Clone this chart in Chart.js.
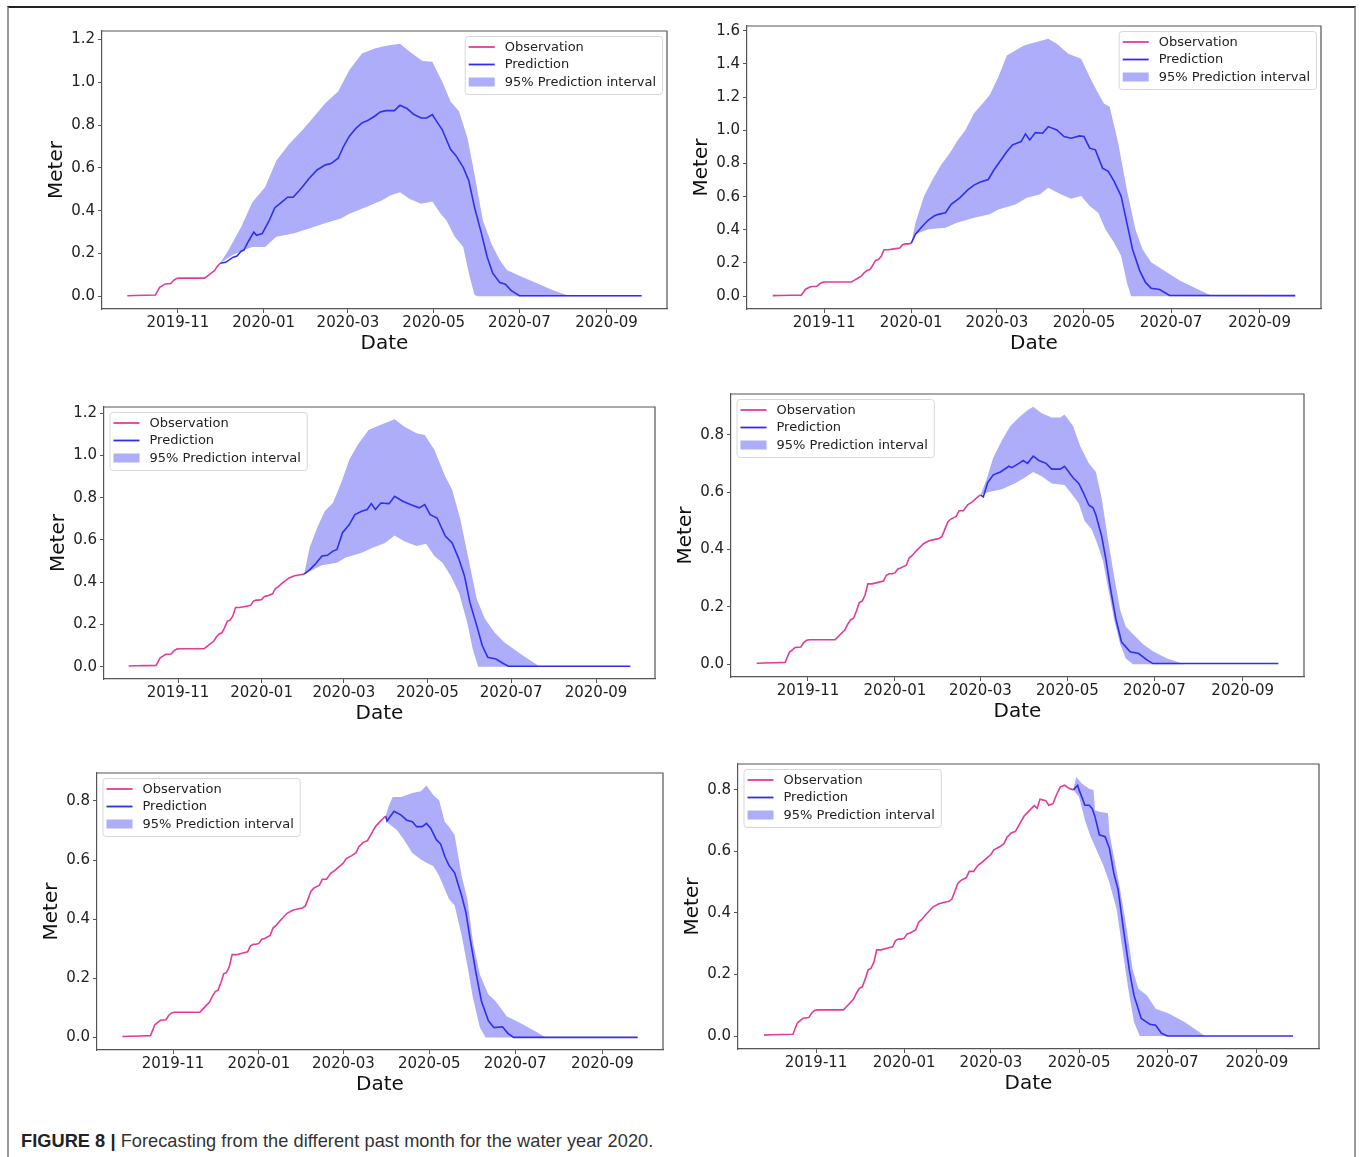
<!DOCTYPE html>
<html>
<head>
<meta charset="utf-8">
<script src="https://cdn.jsdelivr.net/npm/chart.js@4.4.1/dist/chart.umd.min.js"></script>
<style>
  body { margin: 0; background: #fff; width: 1360px; height: 1157px; position: relative; overflow: hidden; }
  .frame { position: absolute; left: 7px; top: 6px; width: 1345px; height: 1200px;
           border-top: 2px solid #222; border-left: 2px solid #9a9a9a; border-right: 2px solid #9a9a9a; }
  canvas { position: absolute; }
  .caption { position: absolute; left: 21px; top: 1132px; font-family: "Liberation Sans", Arial, sans-serif;
             font-size: 18.2px; line-height: 1; color: #333; white-space: nowrap; letter-spacing: 0.05px; }
  .caption b { color: #222; }
</style>
</head>
<body>
<div class="frame"></div>
<canvas id="c0"></canvas>
<canvas id="c1"></canvas>
<canvas id="c2"></canvas>
<canvas id="c3"></canvas>
<canvas id="c4"></canvas>
<canvas id="c5"></canvas>
<div class="caption"><b>FIGURE 8 |</b> Forecasting from the different past month for the water year 2020.</div>
<script>
// x values are days since 2019-10-01
const X_TICK_DAYS = [31, 92, 152, 213, 274, 336];
const X_TICK_LABELS = ['2019-11', '2020-01', '2020-03', '2020-05', '2020-07', '2020-09'];
const LEGEND_LABELS = ['Observation', 'Prediction', '95% Prediction interval'];

// observed water level (Meter)
const OBS = [[-5,0.003],[0,0.004],[8,0.005],[15,0.006],[17,0.03],[18,0.042],[20,0.05],[22,0.058],[26,0.06],[28,0.075],
  [30,0.083],[32,0.085],[50,0.085],[52,0.095],[54,0.105],[57,0.12],[59,0.14],[61,0.155],[63,0.16],[65,0.185],[67,0.215],
  [69,0.22],[71,0.24],[73,0.28],[76,0.28],[80,0.285],[84,0.29],[86,0.31],[88,0.315],[90,0.315],[92,0.318],[94,0.332],
  [96,0.335],[100,0.345],[102,0.37],[104,0.378],[107,0.395],[109,0.405],[112,0.42],[116,0.43],[120,0.435],[123,0.438],
  [125,0.445],[127,0.47],[129,0.495],[131,0.505],[135,0.515],[137,0.535],[140,0.535],[143,0.555],[146,0.565],[149,0.578],
  [152,0.59],[154,0.605],[158,0.615],[161,0.625],[163,0.645],[166,0.66],[169,0.665],[172,0.69],[175,0.715],[178,0.73],
  [182,0.749],[184,0.74],[186,0.77],[190,0.765],[192,0.75],[195,0.755],[197,0.78],[200,0.81],[203,0.815],[206,0.805],[209,0.80]];

// forecast from December
const PRED_DEC = [[61,0.155],[65,0.159],[70,0.182],[73,0.188],[76,0.211],[78,0.216],[81,0.255],[85,0.30],[87,0.285],[91,0.293],
  [96,0.355],[100,0.414],[104,0.435],[109,0.463],[113,0.463],[119,0.506],[124,0.548],[130,0.59],[136,0.614],[140,0.62],
  [145,0.645],[149,0.702],[153,0.748],[158,0.787],[162,0.81],[166,0.821],[171,0.841],[175,0.861],[179,0.867],[185,0.867],
  [189,0.892],[194,0.877],[199,0.849],[204,0.833],[208,0.833],[212,0.849],[215,0.818],[219,0.779],[225,0.687],[229,0.656],
  [234,0.602],[238,0.54],[242,0.417],[247,0.293],[251,0.185],[255,0.108],[260,0.065],[264,0.057],[268,0.028],[274,0.003],[361,0.003]];
const UPPER_DEC = [[61,0.155],[67,0.216],[76,0.324],[84,0.44],[93,0.509],[101,0.633],[110,0.71],[119,0.772],[127,0.833],
  [136,0.903],[145,0.957],[153,1.057],[162,1.134],[171,1.157],[179,1.17],[189,1.18],[196,1.142],[205,1.099],[212,1.096],
  [219,1.003],[225,0.91],[231,0.864],[237,0.74],[242,0.571],[248,0.355],[254,0.247],[260,0.17],[265,0.123],[274,0.096],
  [286,0.062],[297,0.031],[309,0.003],[361,0.003]];
const LOWER_DEC = [[61,0.155],[70,0.193],[78,0.216],[84,0.231],[93,0.231],[101,0.278],[113,0.293],[124,0.316],[136,0.343],
  [147,0.363],[153,0.386],[165,0.417],[176,0.448],[182,0.471],[189,0.486],[196,0.455],[204,0.432],[212,0.443],[218,0.386],
  [222,0.355],[228,0.278],[234,0.231],[238,0.108],[242,0.008],[244,0],[361,0]];

// forecast from January
const PRED_JAN = [[92,0.318],[95,0.373],[100,0.423],[104,0.459],[108,0.483],[111,0.493],[116,0.503],[120,0.553],[126,0.593],
  [132,0.643],[136,0.669],[140,0.687],[146,0.703],[150,0.762],[155,0.822],[159,0.872],[163,0.912],[169,0.932],[172,0.978],
  [175,0.942],[179,0.986],[184,0.982],[188,1.022],[194,1.002],[199,0.962],[204,0.952],[210,0.966],[213,0.962],[217,0.892],
  [221,0.882],[226,0.772],[230,0.752],[234,0.693],[239,0.603],[243,0.443],[247,0.283],[252,0.154],[256,0.084],[260,0.048],
  [266,0.04],[273,0.004],[361,0.003]];
const UPPER_JAN = [[92,0.318],[95,0.443],[101,0.603],[107,0.703],[113,0.792],[119,0.862],[124,0.932],[130,1.002],[136,1.102],
  [142,1.162],[147,1.212],[153,1.321],[159,1.451],[165,1.481],[171,1.511],[179,1.531],[188,1.551],[194,1.521],[202,1.461],
  [211,1.431],[217,1.321],[223,1.222],[227,1.162],[231,1.142],[237,0.922],[243,0.643],[249,0.403],[254,0.283],[260,0.204],
  [269,0.154],[280,0.094],[292,0.044],[302,0.004],[361,0.003]];
const LOWER_JAN = [[92,0.318],[95,0.373],[104,0.403],[116,0.413],[124,0.443],[136,0.473],[147,0.493],[153,0.523],[165,0.553],
  [173,0.593],[182,0.613],[188,0.653],[197,0.613],[204,0.587],[211,0.603],[217,0.543],[223,0.503],[228,0.403],[234,0.323],
  [239,0.244],[243,0.084],[246,0],[361,0]];

// forecast from February
const PRED_FEB = [[123,0.438],[127,0.458],[131,0.484],[136,0.524],[140,0.527],[144,0.547],[147,0.555],[151,0.634],[156,0.673],
  [160,0.72],[165,0.736],[169,0.744],[172,0.772],[175,0.744],[179,0.775],[185,0.772],[189,0.807],[195,0.783],[201,0.767],
  [207,0.752],[211,0.767],[215,0.72],[220,0.704],[226,0.618],[231,0.586],[236,0.508],[240,0.429],[244,0.303],[249,0.193],
  [253,0.099],[257,0.044],[263,0.036],[268,0.016],[272,0.002],[361,0.002]];
const UPPER_FEB = [[123,0.438],[127,0.563],[133,0.665],[138,0.736],[144,0.775],[150,0.87],[156,0.98],[162,1.05],[170,1.121],
  [179,1.145],[189,1.171],[196,1.137],[205,1.105],[211,1.097],[218,1.027],[226,0.901],[231,0.838],[237,0.697],[243,0.508],
  [249,0.319],[255,0.225],[262,0.162],[269,0.115],[281,0.06],[295,0],[361,0]];
const LOWER_FEB = [[123,0.438],[130,0.461],[136,0.48],[147,0.492],[153,0.516],[165,0.539],[173,0.563],[182,0.586],[189,0.621],
  [196,0.594],[205,0.571],[212,0.582],[218,0.524],[224,0.492],[230,0.429],[236,0.35],[242,0.209],[246,0.083],[250,0],[361,0]];

// forecast from March
const PRED_MAR = [[152,0.59],[154,0.583],[157,0.632],[161,0.66],[166,0.67],[172,0.69],[174,0.685],[179,0.70],[182,0.71],
  [185,0.70],[189,0.725],[193,0.71],[198,0.70],[202,0.68],[208,0.68],[211,0.69],[217,0.65],[221,0.63],[224,0.60],[228,0.555],
  [231,0.545],[233,0.52],[237,0.447],[240,0.366],[243,0.27],[247,0.158],[251,0.077],[257,0.043],[263,0.037],[269,0.014],
  [273,0.002],[361,0.002]];
const UPPER_MAR = [[152,0.59],[156,0.64],[161,0.72],[167,0.78],[173,0.83],[179,0.86],[185,0.885],[189,0.897],[195,0.875],
  [202,0.86],[208,0.86],[211,0.87],[217,0.83],[222,0.76],[228,0.70],[233,0.67],[237,0.58],[241,0.45],[246,0.30],[250,0.19],
  [254,0.13],[260,0.10],[266,0.07],[273,0.045],[283,0.02],[295,0],[361,0]];
const LOWER_MAR = [[152,0.59],[158,0.60],[167,0.61],[176,0.63],[183,0.65],[189,0.67],[195,0.655],[202,0.63],[211,0.625],
  [215,0.60],[221,0.56],[225,0.50],[230,0.47],[234,0.42],[238,0.36],[241,0.28],[246,0.15],[250,0.07],[254,0.02],[259,0],[361,0]];

// forecast from April
const PRED_APR = [[182,0.749],[183,0.732],[185,0.746],[188,0.765],[193,0.752],[197,0.735],[201,0.73],[204,0.713],[208,0.713],
  [211,0.724],[214,0.708],[218,0.669],[221,0.655],[224,0.613],[227,0.582],[231,0.557],[236,0.479],[239,0.423],[242,0.334],
  [246,0.223],[250,0.123],[255,0.056],[259,0.033],[265,0.036],[269,0.013],[273,0],[361,0]];
const UPPER_APR = [[182,0.749],[184,0.78],[187,0.813],[193,0.813],[201,0.827],[207,0.833],[211,0.852],[216,0.819],[220,0.802],
  [224,0.73],[227,0.713],[231,0.685],[236,0.546],[240,0.468],[244,0.323],[249,0.212],[255,0.145],[260,0.123],[268,0.072],
  [279,0.045],[296,0],[361,0]];
const LOWER_APR = [[182,0.749],[184,0.724],[190,0.702],[195,0.669],[201,0.624],[207,0.602],[211,0.591],[216,0.579],[220,0.546],
  [224,0.501],[227,0.468],[231,0.446],[236,0.345],[240,0.245],[244,0.134],[249,0.033],[253,0],[361,0]];

// forecast from May
const PRED_MAY = [[209,0.80],[212,0.815],[213,0.80],[217,0.75],[220,0.75],[222,0.74],[224,0.713],[227,0.654],[231,0.648],
  [234,0.61],[237,0.53],[240,0.476],[244,0.337],[248,0.208],[251,0.132],[256,0.057],[262,0.038],[266,0.035],[270,0.009],
  [274,0],[361,0]];
const UPPER_MAY = [[209,0.80],[211,0.842],[215,0.82],[220,0.804],[223,0.80],[224,0.734],[227,0.729],[233,0.724],[234,0.659],
  [237,0.584],[241,0.487],[246,0.347],[250,0.218],[254,0.154],[260,0.132],[266,0.089],[275,0.073],[286,0.046],[300,0],[361,0]];
const LOWER_MAY = [[209,0.80],[213,0.777],[217,0.702],[221,0.648],[226,0.595],[230,0.552],[234,0.498],[239,0.412],[243,0.283],
  [247,0.154],[251,0.046],[255,0],[361,0]];

const FORECASTS = [
  { pred: PRED_DEC, upper: UPPER_DEC, lower: LOWER_DEC },
  { pred: PRED_JAN, upper: UPPER_JAN, lower: LOWER_JAN },
  { pred: PRED_FEB, upper: UPPER_FEB, lower: LOWER_FEB },
  { pred: PRED_MAR, upper: UPPER_MAR, lower: LOWER_MAR },
  { pred: PRED_APR, upper: UPPER_APR, lower: LOWER_APR },
  { pred: PRED_MAY, upper: UPPER_MAY, lower: LOWER_MAY }
];
const Y_TICKS = [
  [0, 0.2, 0.4, 0.6, 0.8, 1.0, 1.2],
  [0, 0.2, 0.4, 0.6, 0.8, 1.0, 1.2, 1.4, 1.6],
  [0, 0.2, 0.4, 0.6, 0.8, 1.0, 1.2],
  [0, 0.2, 0.4, 0.6, 0.8],
  [0, 0.2, 0.4, 0.6, 0.8],
  [0, 0.2, 0.4, 0.6, 0.8]
];

// layout: plot box in page pixels, legend side
const PANELS = [
  { l: 102, t: 29, r: 667, b: 309, legend: 'right' },
  { l: 747, t: 24, r: 1321, b: 309, legend: 'right' },
  { l: 104, t: 405, r: 655, b: 679, legend: 'left' },
  { l: 731, t: 392, r: 1304, b: 677, legend: 'left' },
  { l: 97, t: 771, r: 663, b: 1050, legend: 'left' },
  { l: 738, t: 762, r: 1319, b: 1049, legend: 'left' }
];
const X_MIN = -23, X_MAX = 379;
const Y_AXIS_W = 57, X_AXIS_H = 47;

const OBS_COLOR = '#e23c98';
const PRED_COLOR = '#2f2ff0';
const BAND_COLOR = '#adadf9';
const SPINE = '#555';
const toXY = arr => arr.map(p => ({ x: p[0], y: p[1] }));

Chart.defaults.font.family = '"DejaVu Sans", sans-serif';
Chart.defaults.color = '#222';

// top + right spines like matplotlib
const boxPlugin = {
  id: 'boxSpines',
  afterDatasetsDraw(chart) {
    const { ctx, chartArea: a } = chart;
    ctx.save();
    ctx.strokeStyle = SPINE;
    ctx.lineWidth = 1.2;
    ctx.beginPath();
    ctx.moveTo(a.left, a.top); ctx.lineTo(a.right, a.top); ctx.lineTo(a.right, a.bottom);
    ctx.stroke();
    ctx.restore();
  }
};

const legendPlugin = {
  id: 'mplLegend',
  afterDraw(chart, args, opts) {
    const { ctx, chartArea: a } = chart;
    ctx.save();
    ctx.font = '13px "DejaVu Sans"';
    const w = Math.max(...LEGEND_LABELS.map(t => ctx.measureText(t).width)) + 46;
    const h = 58;
    const x = opts.side === 'right' ? a.right - 5 - w : a.left + 5.5;
    const y = a.top + 5;
    ctx.beginPath();
    if (ctx.roundRect) ctx.roundRect(x + 0.5, y + 0.5, w, h, 3); else ctx.rect(x + 0.5, y + 0.5, w, h);
    ctx.fillStyle = 'rgba(255,255,255,0.8)';
    ctx.fill();
    ctx.strokeStyle = '#d8d8d8';
    ctx.lineWidth = 1;
    ctx.stroke();
    const rows = [y + 11, y + 28.5, y + 46];
    ctx.lineWidth = 1.8;
    ctx.strokeStyle = OBS_COLOR;
    ctx.beginPath(); ctx.moveTo(x + 4, rows[0]); ctx.lineTo(x + 30, rows[0]); ctx.stroke();
    ctx.strokeStyle = PRED_COLOR;
    ctx.beginPath(); ctx.moveTo(x + 4, rows[1]); ctx.lineTo(x + 30, rows[1]); ctx.stroke();
    ctx.fillStyle = BAND_COLOR;
    ctx.fillRect(x + 4, rows[2] - 4.5, 26, 9);
    ctx.fillStyle = '#222';
    ctx.textBaseline = 'middle';
    LEGEND_LABELS.forEach((t, i) => ctx.fillText(t, x + 40, rows[i] + 0.5));
    ctx.restore();
  }
};

PANELS.forEach((p, i) => {
  const f = FORECASTS[i];
  const ticks = Y_TICKS[i];
  const obs = OBS.filter(v => v[0] <= f.pred[0][0]);
  const dataMax = Math.max(...f.upper.map(v => v[1]), ...obs.map(v => v[1]));
  const yMax = dataMax * 1.05, yMin = -dataMax * 0.05;

  const canvas = document.getElementById('c' + i);
  canvas.width = p.r - p.l + Y_AXIS_W + 10;
  canvas.height = p.b - p.t + 10 + X_AXIS_H;
  canvas.style.left = (p.l - Y_AXIS_W) + 'px';
  canvas.style.top = (p.t - 10) + 'px';

  new Chart(canvas, {
    type: 'line',
    data: {
      datasets: [
        { label: 'Observation', data: toXY(obs), borderColor: OBS_COLOR, borderWidth: 1.6, pointRadius: 0, tension: 0, fill: false, order: 0 },
        { label: 'Prediction', data: toXY(f.pred), borderColor: PRED_COLOR, borderWidth: 1.6, pointRadius: 0, tension: 0, fill: false, order: 1 },
        { label: 'upper', data: toXY(f.upper), borderColor: 'transparent', borderWidth: 0, pointRadius: 0, tension: 0,
          fill: '+1', backgroundColor: BAND_COLOR, order: 2 },
        { label: 'lower', data: toXY(f.lower), borderColor: 'transparent', borderWidth: 0, pointRadius: 0, tension: 0, fill: false, order: 3 }
      ]
    },
    options: {
      responsive: false,
      animation: false,
      events: [],
      layout: { padding: { left: 0, top: 10, right: 10, bottom: 0 } },
      plugins: {
        legend: { display: false },
        tooltip: { enabled: false },
        mplLegend: { side: p.legend }
      },
      scales: {
        x: {
          type: 'linear',
          min: X_MIN,
          max: X_MAX,
          afterBuildTicks: s => { s.ticks = X_TICK_DAYS.map(v => ({ value: v })); },
          afterFit: s => { s.height = X_AXIS_H; },
          ticks: { callback: (v, k) => X_TICK_LABELS[k], font: { size: 15 }, color: '#222', padding: 1, maxRotation: 0, autoSkip: false },
          grid: { drawOnChartArea: false, drawTicks: true, tickLength: 4, color: SPINE, tickWidth: 1 },
          border: { display: true, color: SPINE, width: 1.2 },
          title: { display: true, text: 'Date', font: { size: 20 }, color: '#111', padding: { top: 0, bottom: 0 } }
        },
        y: {
          type: 'linear',
          min: yMin,
          max: yMax,
          afterBuildTicks: s => { s.ticks = ticks.map(v => ({ value: v })); },
          afterFit: s => { s.width = Y_AXIS_W; },
          ticks: { callback: v => v.toFixed(1), font: { size: 15 }, color: '#222', padding: 3, autoSkip: false },
          grid: { drawOnChartArea: false, drawTicks: true, tickLength: 4, color: SPINE, tickWidth: 1 },
          border: { display: true, color: SPINE, width: 1.2 },
          title: { display: true, text: 'Meter', font: { size: 20 }, color: '#111', padding: { top: 0, bottom: 0 } }
        }
      }
    },
    plugins: [boxPlugin, legendPlugin]
  });
});
</script>
</body>
</html>
